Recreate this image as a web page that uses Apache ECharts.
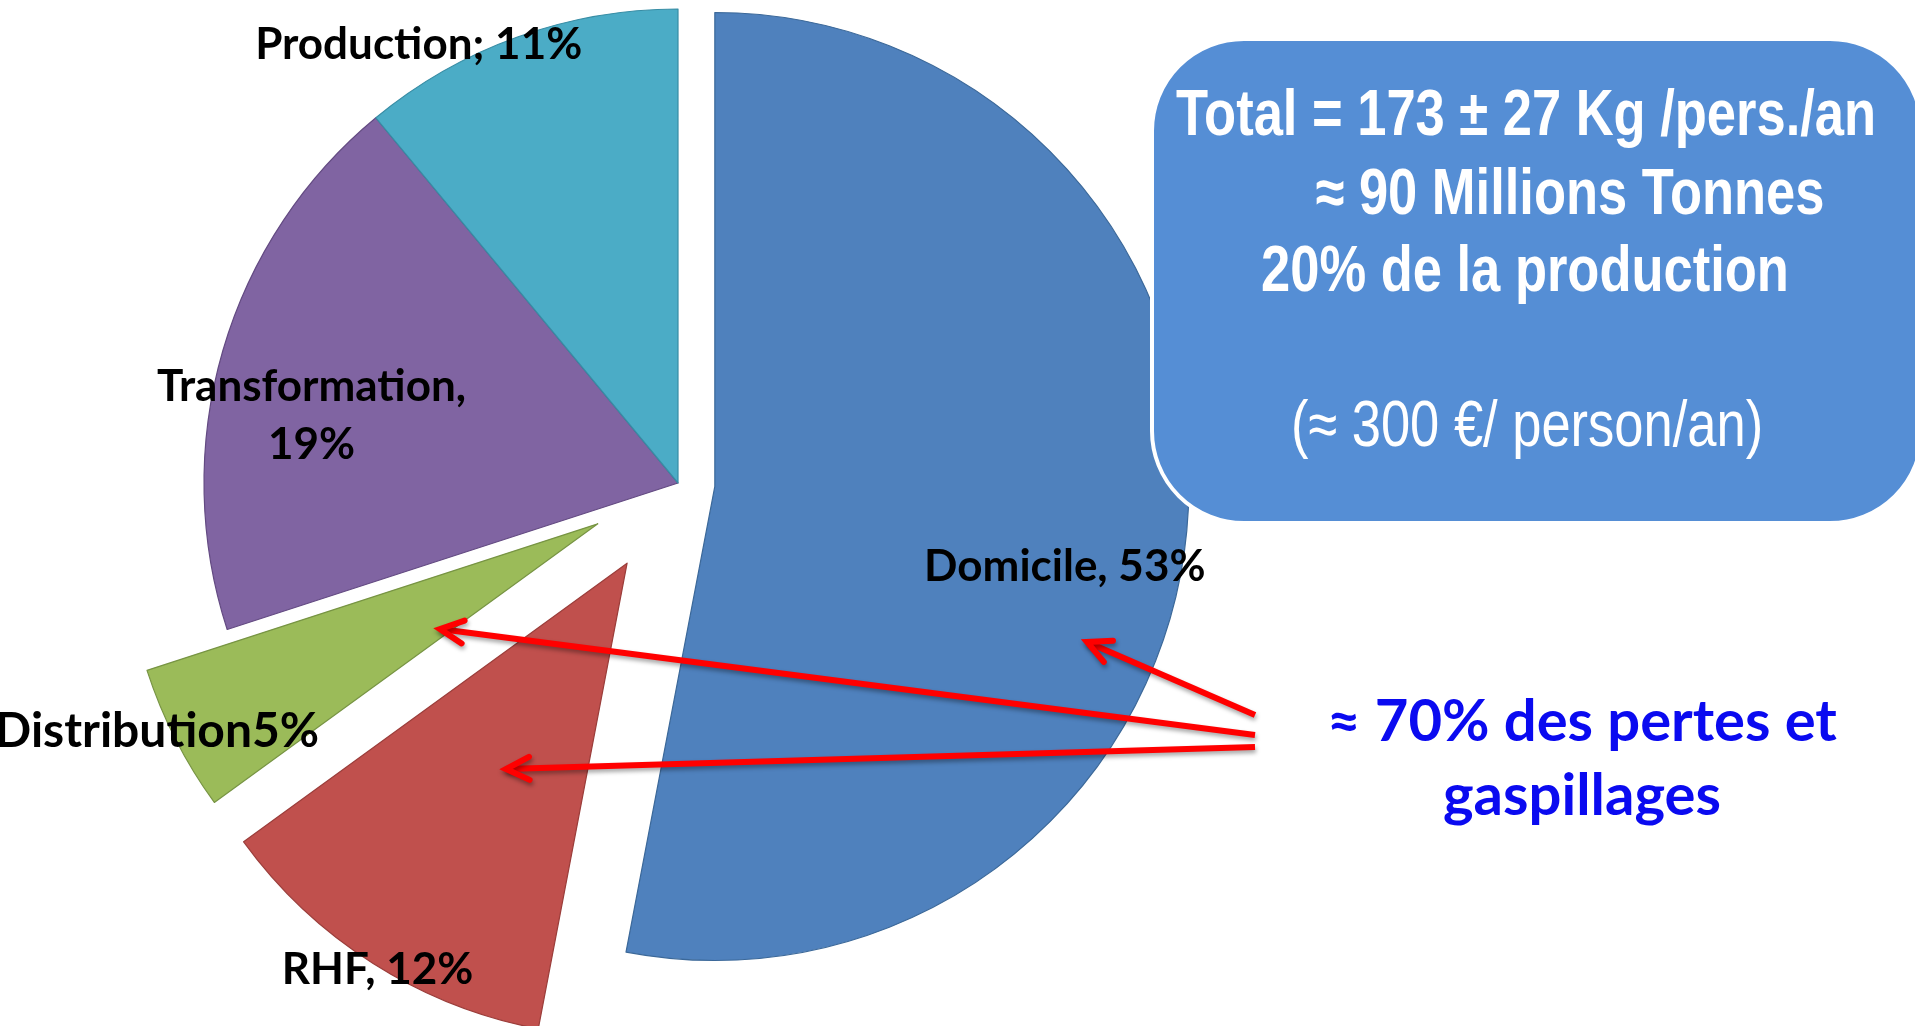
<!DOCTYPE html>
<html><head><meta charset="utf-8">
<script src="https://cdn.jsdelivr.net/npm/echarts@6/dist/echarts.min.js"></script>
<style>html,body{margin:0;padding:0;background:#fff}#c{width:1915px;height:1026px}</style>
</head><body><div id="c"></div>
<script>
// ---- data ----
const categories = ['Domicile', 'RHF', 'Distribution', 'Transformation', 'Production'];
const values = [53, 12, 5, 19, 11];
const labelTemplates = ['{b}, {c}%', '{b}, {c}%', '{b}{c}%', '{b},\n{c}%', '{b}; {c}%'];
const boxLines = ['Total = 173 \u00b1 27 Kg /pers./an', '\u2248 90 Millions Tonnes', '20% de la production', '(\u2248 300 \u20ac/ person/an)'];
const noteLines = ['\u2248 70% des pertes et', 'gaspillages'];
const arrowTargets = ['Domicile', 'Distribution', 'RHF'];

// ---- styles / layout ----
const colors = ['#4F81BD', '#C0504D', '#9BBB59', '#8064A2', '#4BACC6'];
const borders = ['#3B6899', '#9B3D3A', '#779443', '#634A82', '#388DA5'];
const explode = [37, 95, 90, 0, 0];
const labelShift = [[111, 58], [-121, 204], [-227, 99], [-136, 0], [-178, -212]];
const labelSizes = [44, 44, 48, 44, 44];
const pieCenter = [678, 483];
const pieRadius = 474;

const boxStyle = [
  { x: 1526, y: 117, bold: true },
  { x: 1570, y: 196, bold: true },
  { x: 1525, y: 273, bold: true },
  { x: 1527, y: 428, bold: false }
];
const noteStyle = [{ x: 1582, y: 722 }, { x: 1582, y: 796 }];
const arrowGeom = {
  Domicile: [[1255, 715], [1087, 642]],
  Distribution: [[1255, 735], [440, 629]],
  RHF: [[1255, 747], [506, 769]]
};

const series = categories.map((_, k) => ({
  type: 'pie',
  center: pieCenter,
  radius: pieRadius,
  startAngle: 90,
  clockwise: true,
  selectedMode: 'multiple',
  selectedOffset: explode[k],
  animation: false,
  silent: true,
  avoidLabelOverlap: false,
  emphasis: { disabled: true },
  label: {
    show: true,
    position: 'inside',
    formatter: labelTemplates[k],
    color: '#000',
    fontFamily: 'Lato',
    fontWeight: 'bold',
    fontSize: labelSizes[k],
    lineHeight: 58,
    align: 'center',
    textBorderWidth: 0,
    textBorderColor: 'transparent'
  },
  labelLine: { show: false },
  labelLayout: { dx: labelShift[k][0], dy: labelShift[k][1] },
  data: categories.map((name, i) => ({
    name: name,
    value: values[i],
    selected: i === k && explode[k] > 0,
    itemStyle: i === k
      ? { color: colors[i], borderColor: borders[i], borderWidth: 1.2 }
      : { color: 'rgba(0,0,0,0)', borderWidth: 0 },
    label: { show: i === k }
  }))
}));

const graphic = [];
graphic.push({
  type: 'rect', z: 100,
  shape: { x: 1152, y: 39, width: 770, height: 484, r: 92 },
  style: { fill: '#558ED5', stroke: '#ffffff', lineWidth: 4 }
});
boxLines.forEach((t, i) => {
  const s = boxStyle[i];
  graphic.push({
    type: 'text', z: 101, x: s.x, y: s.y, scaleX: 0.82,
    style: {
      text: t, fill: '#ffffff',
      font: (s.bold ? 'bold ' : '') + '64px "Liberation Sans", Arial, sans-serif',
      textAlign: 'center', textVerticalAlign: 'middle', align: 'center', verticalAlign: 'middle'
    }
  });
});
noteLines.forEach((t, i) => {
  const s = noteStyle[i];
  graphic.push({
    type: 'text', z: 101, x: s.x, y: s.y,
    style: {
      text: t, fill: '#0A0AF0',
      font: 'bold 58px Lato, sans-serif',
      textAlign: 'center', textVerticalAlign: 'middle', align: 'center', verticalAlign: 'middle'
    }
  });
});
arrowTargets.forEach(name => {
  const [s, e] = arrowGeom[name];
  const ang = Math.atan2(e[1] - s[1], e[0] - s[0]);
  const L = 26, spread = 0.46;
  const a1 = [e[0] - L * Math.cos(ang - spread), e[1] - L * Math.sin(ang - spread)];
  const a2 = [e[0] - L * Math.cos(ang + spread), e[1] - L * Math.sin(ang + spread)];
  const shadow = { shadowBlur: 4, shadowColor: 'rgba(0,0,0,0.35)', shadowOffsetX: 1, shadowOffsetY: 3 };
  graphic.push({
    type: 'line', z: 102,
    shape: { x1: s[0], y1: s[1], x2: e[0], y2: e[1] },
    style: Object.assign({ stroke: '#FF0000', lineWidth: 6, lineCap: 'butt' }, shadow)
  });
  graphic.push({
    type: 'polyline', z: 102,
    shape: { points: [a1, e, a2] },
    style: Object.assign({ stroke: '#FF0000', lineWidth: 6, fill: null, lineCap: 'round', lineJoin: 'miter' }, shadow)
  });
});

const chart = echarts.init(document.getElementById('c'), null, { renderer: 'canvas' });
chart.setOption({
  backgroundColor: '#ffffff',
  animation: false,
  series: series,
  graphic: graphic
});
</script>
</body></html>
